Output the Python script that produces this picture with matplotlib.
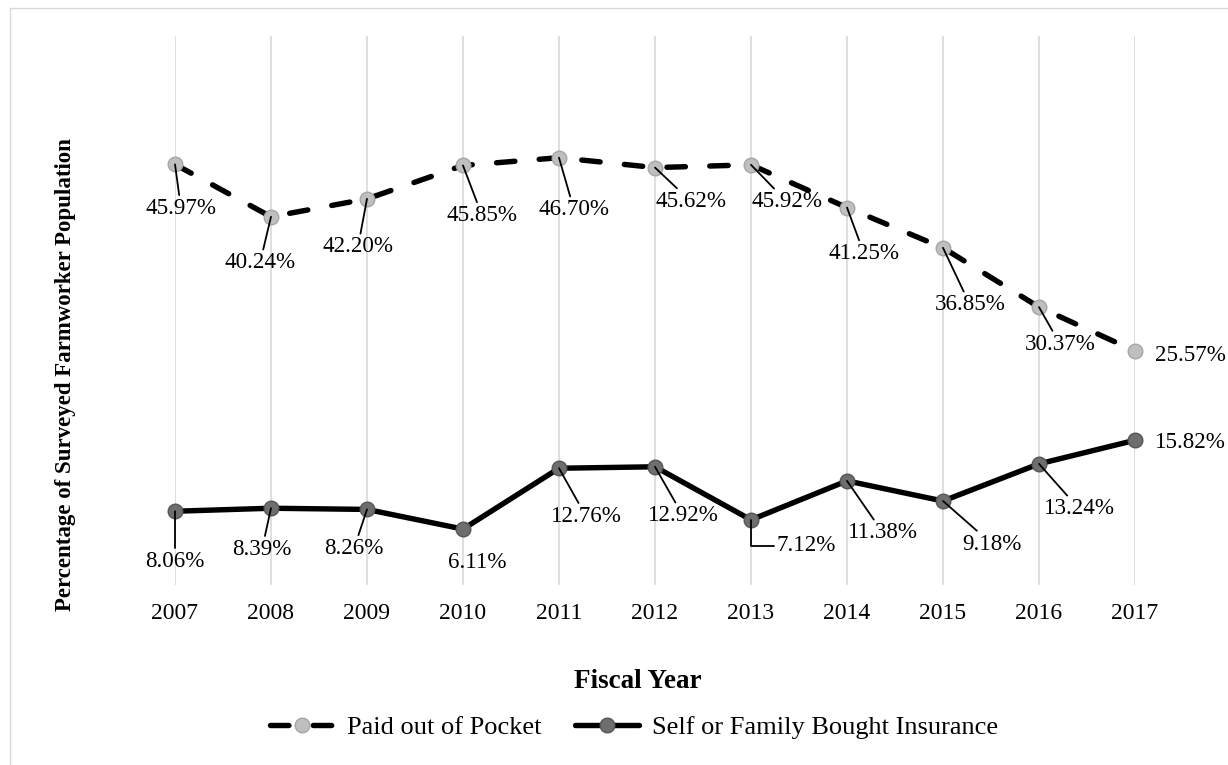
import matplotlib.pyplot as plt
from matplotlib.patches import Rectangle

plt.rcParams["font.family"] = ["Liberation Serif", "DejaVu Serif"]

years = [2007, 2008, 2009, 2010, 2011, 2012, 2013, 2014, 2015, 2016, 2017]
pocket = [45.97, 40.24, 42.20, 45.85, 46.70, 45.62, 45.92, 41.25, 36.85, 30.37, 25.57]
insured = [8.06, 8.39, 8.26, 6.11, 12.76, 12.92, 7.12, 11.38, 9.18, 13.24, 15.82]
series_names = ["Paid out of Pocket", "Self or Family Bought Insurance"]

# label offsets in pixels (dx, dy) and whether a leader line is drawn
pocket_offsets = [(6, -44), (-11, -46), (-9, -48), (19, -50), (15, -52), (36, -34),
                  (36, -37), (17, -46), (27, -57), (21, -37), (55, -4)]
pocket_leader = [True] * 10 + [False]
insured_offsets = [(0, -50), (-9, -41), (-13, -39), (14, -33), (27, -48), (28, -49),
                   (55, -26), (36, -52), (49, -43), (40, -45), (55, -2)]
insured_leader = [True, True, True, False, True, True, "elbow", True, True, True, False]

W, H = 1228, 765
fig = plt.figure(figsize=(W / 100, H / 100), dpi=100)
ax = fig.add_axes([175 / W, 1 - 585 / H, 960 / W, 549 / H])

# faint frame of the chart area
fig.patches.append(Rectangle((10 / W, -0.1), 1.2, 1 - 8 / H + 0.1, transform=fig.transFigure,
                             fill=False, ec="#d9d9d9", lw=1.0))

ax.plot(years, pocket, color="black", lw=3.9, linestyle=(0, (3.4, 4.5)),
        dash_capstyle="round", marker="o", markersize=10.5, markerfacecolor="#bfbfbf",
        markeredgecolor="#a6a6a6", markeredgewidth=1.0, clip_on=False, zorder=3,
        label=series_names[0])
ax.plot(years, insured, color="black", lw=3.9, solid_capstyle="round",
        marker="o", markersize=10.5, markerfacecolor="#6e6e6e",
        markeredgecolor="#555555", markeredgewidth=1.0, clip_on=False, zorder=3,
        label=series_names[1])


def add_labels(values, offsets, leaders):
    for yr, v, (dx, dy), lead in zip(years, values, offsets, leaders):
        kw = {}
        if lead is True:
            kw["arrowprops"] = dict(arrowstyle="-", color="black", lw=1.3,
                                    shrinkA=0, shrinkB=0)
        elif lead == "elbow":
            kw["arrowprops"] = dict(arrowstyle="-", color="black", lw=1.3,
                                    shrinkA=0, shrinkB=0, relpos=(0, 0.5),
                                    connectionstyle="angle,angleA=0,angleB=90,rad=0")
        ax.annotate(f"{v:.2f}%", xy=(yr, v), xytext=(dx, dy), textcoords="offset pixels",
                    ha="center", va="center", fontsize=16.6, color="black",
                    zorder=5, annotation_clip=False, **kw)


add_labels(pocket, pocket_offsets, pocket_leader)
add_labels(insured, insured_offsets, insured_leader)

ax.set_xlim(years[0], years[-1])
ax.set_ylim(0, 60)
ax.set_xticks(years)
ax.set_xticklabels([str(y) for y in years], fontsize=17, color="black")
ax.set_yticks([])
ax.tick_params(axis="x", length=0, pad=13)
ax.grid(axis="x", color="#d9d9d9", lw=1.2)
ax.set_axisbelow(True)
for s in ax.spines.values():
    s.set_visible(False)

fig.text(66 / W, 1 - 375 / H, "Percentage of Surveyed Farmworker Population",
         rotation=90, ha="center", va="center", fontsize=16.5, fontweight="bold")
fig.text(638 / W, 1 - 682 / H, "Fiscal Year", ha="center", va="center",
         fontsize=19.5, fontweight="bold")

fig.legend(loc="center", bbox_to_anchor=(634 / W, 1 - 727 / H), ncol=2, frameon=False,
           fontsize=19, handlelength=2.4, handletextpad=0.5, columnspacing=1.3,
           numpoints=1)

fig.savefig("out.png", dpi=100)
